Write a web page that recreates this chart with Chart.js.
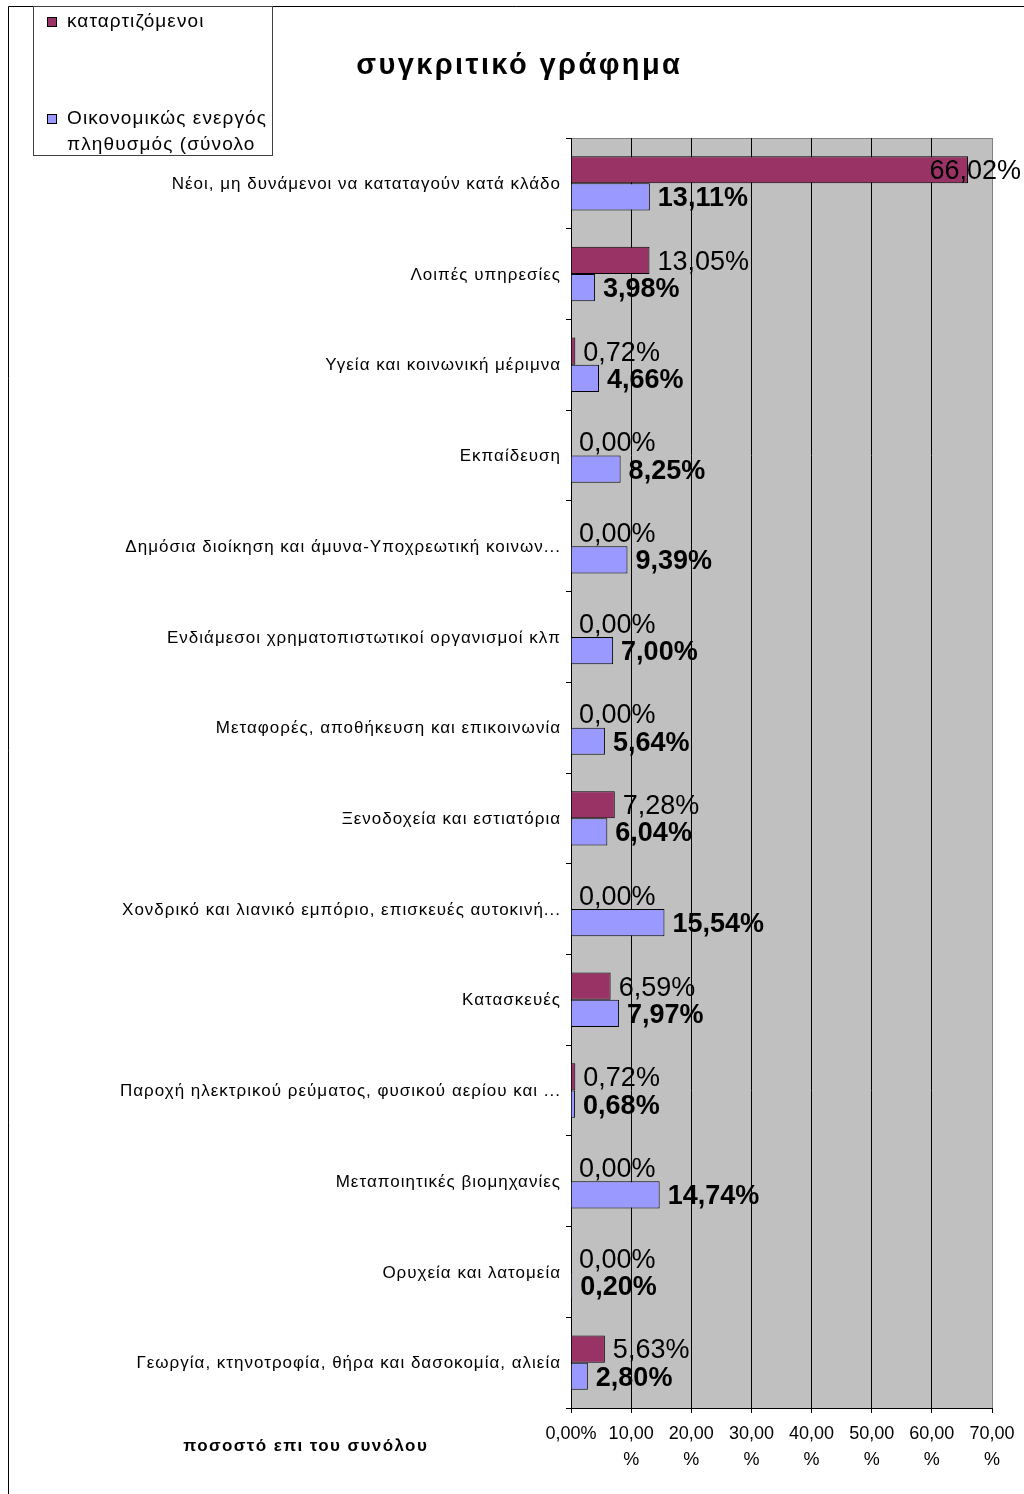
<!DOCTYPE html>
<html>
<head>
<meta charset="utf-8">
<style>
html,body{margin:0;padding:0;background:#fff;}
canvas{display:block;}
</style>
<script src="https://cdn.jsdelivr.net/npm/chart.js@4/dist/chart.umd.min.js"></script>
</head>
<body>
<canvas id="c" width="1024" height="1494"></canvas>
<script>
const categories = [
  "Νέοι, μη δυνάμενοι να καταταγούν κατά κλάδο",
  "Λοιπές υπηρεσίες",
  "Υγεία και κοινωνική μέριμνα",
  "Εκπαίδευση",
  "Δημόσια διοίκηση και άμυνα-Υποχρεωτική κοινων...",
  "Ενδιάμεσοι χρηματοπιστωτικοί οργανισμοί κλπ",
  "Μεταφορές, αποθήκευση και επικοινωνία",
  "Ξενοδοχεία και εστιατόρια",
  "Χονδρικό και λιανικό εμπόριο, επισκευές αυτοκινή...",
  "Κατασκευές",
  "Παροχή ηλεκτρικού ρεύματος, φυσικού αερίου και ...",
  "Μεταποιητικές βιομηχανίες",
  "Ορυχεία και λατομεία",
  "Γεωργία, κτηνοτροφία, θήρα και δασοκομία, αλιεία"
];
const trainees = [66.02, 13.05, 0.72, 0.00, 0.00, 0.00, 0.00, 7.28, 0.00, 6.59, 0.72, 0.00, 0.00, 5.63];
const activePop = [13.11, 3.98, 4.66, 8.25, 9.39, 7.00, 5.64, 6.04, 15.54, 7.97, 0.68, 14.74, 0.20, 2.80];
const seriesNames = ["καταρτιζόμενοι", ["Οικονομικώς ενεργός", "πληθυσμός (σύνολο"]];
const xTicks = [0, 10, 20, 30, 40, 50, 60, 70];
const chartTitle = "συγκριτικό γράφημα";
const axisTitle = "ποσοστό επι του συνόλου";

const FONT = "'Liberation Sans', Arial, sans-serif";
const fmt = v => v.toFixed(2).replace('.', ',') + '%';

function spaced(ctx, px) { if ('letterSpacing' in ctx) ctx.letterSpacing = px + 'px'; }

const decor = {
  id: 'decor',
  beforeDraw(chart) {
    const ctx = chart.ctx, a = chart.chartArea;
    ctx.save();
    ctx.fillStyle = '#fff';
    ctx.fillRect(0, 0, chart.width, chart.height);
    ctx.fillStyle = '#C0C0C0';
    ctx.fillRect(a.left, a.top, a.right - a.left, a.bottom - a.top);
    ctx.strokeStyle = '#808080';
    ctx.lineWidth = 1;
    ctx.beginPath();
    ctx.moveTo(a.left, a.top + 0.5); ctx.lineTo(a.right + 0.5, a.top + 0.5);
    ctx.lineTo(a.right + 0.5, a.bottom);
    ctx.stroke();
    ctx.restore();
  },
  afterDraw(chart) {
    const ctx = chart.ctx;
    ctx.save();
    ctx.strokeStyle = '#000';
    ctx.lineWidth = 1;
    ctx.beginPath();
    ctx.moveTo(8.5, chart.height); ctx.lineTo(8.5, 6.5); ctx.lineTo(chart.width, 6.5);
    ctx.stroke();
    ctx.fillStyle = '#000';
    ctx.textAlign = 'left';
    ctx.textBaseline = 'middle';
    // title
    ctx.font = "bold 29px " + FONT;
    spaced(ctx, 2.4);
    let w = ctx.measureText(chartTitle).width;
    ctx.fillText(chartTitle, 518 - w / 2 + 1.2, 66);
    // axis title
    ctx.font = "bold 17px " + FONT;
    spaced(ctx, 1.4);
    w = ctx.measureText(axisTitle).width;
    ctx.fillText(axisTitle, 305 - w / 2 + 0.7, 1446);
    // category labels
    const ys = chart.scales.y;
    ctx.font = "17px " + FONT;
    spaced(ctx, 1);
    categories.forEach((lab, i) => {
      const tw = ctx.measureText(lab).width;
      ctx.fillText(lab, 561 - tw, ys.getPixelForTick(i) + 1);
    });
    // legend
    spaced(ctx, 0);
    ctx.strokeStyle = '#404040';
    ctx.strokeRect(33.5, 6.5, 239, 149);
    const cols = ['#993366', '#9999FF'];
    const ly = [22, 119];
    ctx.font = "19px " + FONT;
    spaced(ctx, 1.1);
    for (let i = 0; i < 2; i++) {
      ctx.fillStyle = cols[i];
      ctx.fillRect(47, ly[i] - 5, 10, 10);
      ctx.strokeStyle = '#000';
      ctx.strokeRect(47.5, ly[i] - 4.5, 9, 9);
      ctx.fillStyle = '#000';
      const nm = seriesNames[i];
      const lines = Array.isArray(nm) ? nm : [nm];
      lines.forEach((t, k) => ctx.fillText(t, 67, ly[i] + k * 26));
    }
    ctx.restore();
  },
  afterDatasetsDraw(chart) {
    const ctx = chart.ctx;
    ctx.save();
    spaced(ctx, 0);
    ctx.textBaseline = 'middle';
    ctx.textAlign = 'left';
    ctx.fillStyle = '#000';
    chart.data.datasets.forEach((ds, di) => {
      const meta = chart.getDatasetMeta(di);
      ctx.font = (di === 1 ? 'bold ' : '') + '27px ' + FONT;
      meta.data.forEach((bar, j) => {
        const txt = fmt(ds.data[j]);
        const tw = ctx.measureText(txt).width;
        let x = bar.x + 8;
        if (x + tw > chart.width - 3) x = chart.width - 3 - tw;
        ctx.fillText(txt, x, bar.y + 2);
      });
    });
    ctx.restore();
  }
};

new Chart(document.getElementById('c'), {
  type: 'bar',
  data: {
    labels: categories,
    datasets: [
      { label: 'καταρτιζόμενοι', data: trainees, backgroundColor: '#993366', borderColor: '#000',
        borderWidth: c => (c.raw > 0 ? 1 : 0), categoryPercentage: 0.6, barPercentage: 1 },
      { label: 'Οικονομικώς ενεργός πληθυσμός (σύνολο', data: activePop, backgroundColor: '#9999FF', borderColor: '#000',
        borderWidth: c => (c.raw > 0 ? 1 : 0), categoryPercentage: 0.6, barPercentage: 1 }
    ]
  },
  options: {
    indexAxis: 'y',
    responsive: false,
    devicePixelRatio: 1,
    animation: false,
    layout: { padding: { top: 138, right: 32, left: 0, bottom: 0 } },
    plugins: { legend: { display: false }, title: { display: false }, tooltip: { enabled: false } },
    scales: {
      x: {
        min: 0, max: 70,
        afterFit(s) { s.height = 86; },
        afterBuildTicks(s) { s.ticks = xTicks.map(v => ({ value: v })); },
        ticks: {
          color: '#000', padding: 8,
          font: { family: FONT, size: 18, lineHeight: 1.45 },
          maxRotation: 0, autoSkip: false,
          callback: v => v === 0 ? '0,00%' : [v.toFixed(2).replace('.', ','), '%']
        },
        grid: {
          color: c => (c.tick && c.tick.value === 70 ? '#808080' : '#000'),
          tickColor: '#000', tickLength: 5, lineWidth: 1
        },
        border: { color: '#000', width: 1 }
      },
      y: {
        afterFit(s) { s.width = 571; },
        ticks: { display: false, autoSkip: false },
        grid: { drawOnChartArea: false, drawTicks: true, tickLength: 5, color: '#000', offset: true },
        border: { color: '#000', width: 1 }
      }
    }
  },
  plugins: [decor]
});
</script>
</body>
</html>
